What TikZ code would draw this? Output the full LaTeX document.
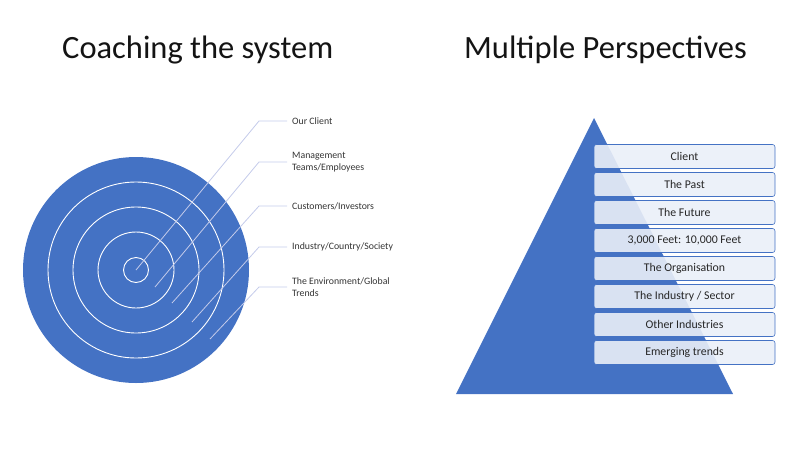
\documentclass[tikz,border=0pt]{standalone}
\usepackage{fontspec}
\setmainfont{Carlito}
\usetikzlibrary{positioning}
\definecolor{ringBlue}{RGB}{68,114,196}
\definecolor{boxFill}{RGB}{234,239,248}
\definecolor{leadLine}{RGB}{196,203,234}
\definecolor{titleGray}{RGB}{20,20,20}

\begin{document}
\begin{tikzpicture}[
    x=1pt, y=-1pt,
    title/.style={anchor=base west, font=\fontsize{32.5}{34}\selectfont, text=titleGray, inner sep=0pt},
    lbl/.style={anchor=west, align=left, font=\fontsize{9.8}{11.5}\selectfont, text=black!80, inner sep=0pt},
    lead/.style={draw=leadLine, line width=0.8pt},
    ring/.style={draw=white, line width=0.9pt},
    layer/.style={rectangle, draw=ringBlue, fill=boxFill, fill opacity=0.9, text opacity=1, rounded corners=2.5pt, line width=0.6pt, minimum width=181pt, minimum height=24pt, inner sep=0pt, outer sep=0pt, font=\fontsize{11.8}{13}\selectfont, text=black!85}
]
\useasboundingbox (0,0) rectangle (800,450);

% titles
\node[title] (t1) at (62,58) {Coaching the system};
\node[title] (t2) at (464,58) {Multiple Perspectives};

% target circles
\fill[ringBlue] (136,270) circle[radius=113];
\foreach \r in {12.5,38,63,88}
  \draw[ring] (136,270) circle[radius=\r];

% leader lines and labels
\coordinate (p1) at (136,270);
\coordinate (p2) at (155,287);
\coordinate (p3) at (172,303);
\coordinate (p4) at (192,322);
\coordinate (p5) at (210,339);
\coordinate (k1) at (259,121);
\coordinate (k2) at (259,162);
\coordinate (k3) at (259,206);
\coordinate (k4) at (259,247);
\coordinate (k5) at (259,287);
\node[lbl] (l1) at (292,121) {Our Client};
\node[lbl] (l2) at (292,162) {Management\\Teams/Employees};
\node[lbl] (l3) at (292,206) {Customers/Investors};
\node[lbl] (l4) at (292,247) {Industry/Country/Society};
\node[lbl] (l5) at (292,287) {The Environment/Global\\Trends};
\foreach \i in {1,...,5}
  \draw[lead] (p\i) -- (k\i) -- ([xshift=-5pt]k\i -| l\i.west);

% pyramid
\coordinate (apex) at (594,118);
\coordinate (bl) at (456,394);
\coordinate (br) at (733,394);
\fill[ringBlue] (apex) -- (br) -- (bl) -- cycle;

% layers
\node[layer] (b1) at (684.5,156.5) {Client};
\node[layer, below=4pt of b1] (b2) {The Past};
\node[layer, below=4pt of b2] (b3) {The Future};
\node[layer, below=4pt of b3] (b4) {3,000 Feet: 10,000 Feet};
\node[layer, below=4pt of b4] (b5) {The Organisation};
\node[layer, below=4pt of b5] (b6) {The Industry / Sector};
\node[layer, below=4pt of b6] (b7) {Other Industries};
\node[layer, below=4pt of b7] (b8) {Emerging trends};
\end{tikzpicture}
\end{document}
